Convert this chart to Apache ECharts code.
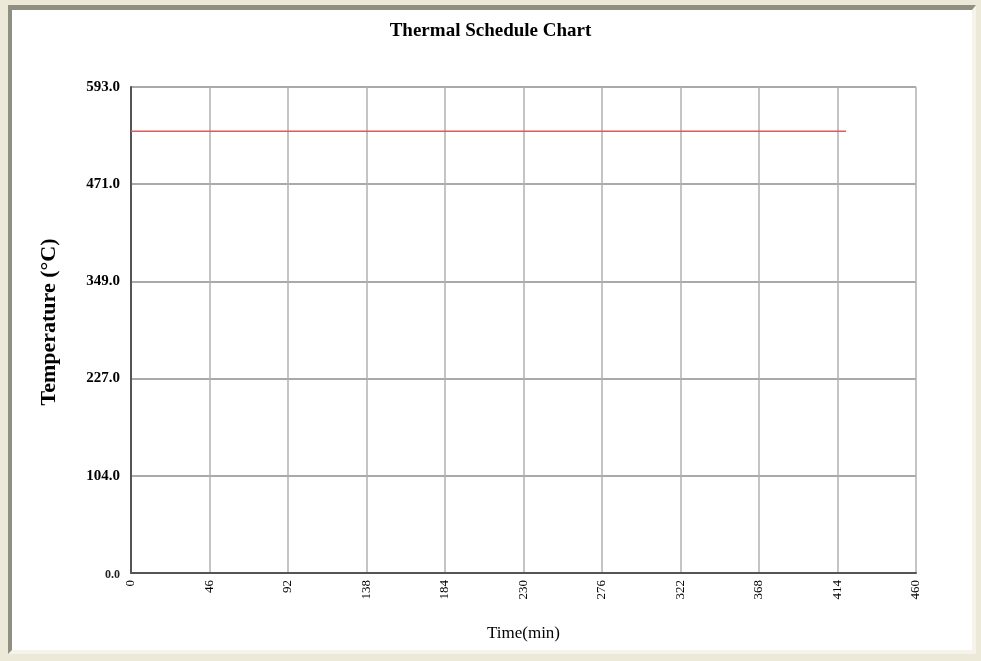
<!DOCTYPE html>
<html>
<head>
<meta charset="utf-8">
<script src="https://cdn.jsdelivr.net/npm/echarts@6/dist/echarts.min.js"></script>
<style>
  html, body { margin: 0; padding: 0; background: #ECE9D8; }
  #frame {
    position: absolute; left: 8px; top: 5px; width: 968px; height: 649px;
    background: #ffffff;
    border-top: 5px solid #8f8f82; border-left: 4px solid #8f8f82;
    border-right: 4px solid #f5f3ea; border-bottom: 4px solid #f5f3ea;
    box-sizing: border-box;
  }
  #chart { position: absolute; left: 0; top: 0; width: 981px; height: 661px; }
</style>
</head>
<body>
<div id="frame"></div>
<div id="chart"></div>
<script>
// Time axis (minutes) and temperature axis labels
const timeTicks = [0, 46, 92, 138, 184, 230, 276, 322, 368, 414, 460];
const tempTickLabels = ['0.0', '104.0', '227.0', '349.0', '471.0', '593.0'];
const tempMax = 593;

// Schedule: hold temperature over time
const scheduleTime = [0, 419];
const scheduleTemp = [539, 539];

const chart = echarts.init(document.getElementById('chart'), null, { renderer: 'canvas' });
const serif = '"Liberation Serif", "Times New Roman", serif';
const yStep = tempMax / (tempTickLabels.length - 1);

chart.setOption({
  backgroundColor: 'transparent',
  animation: false,
  title: {
    text: 'Thermal Schedule Chart',
    left: 'center', top: 17,
    textStyle: { fontFamily: serif, fontSize: 19, fontWeight: 'bold', color: '#000' }
  },
  grid: { left: 131, right: 65, top: 87, bottom: 88 },
  xAxis: {
    type: 'value',
    min: 0, max: timeTicks[timeTicks.length - 1], interval: timeTicks[1] - timeTicks[0],
    name: 'Time(min)', nameLocation: 'middle', nameGap: 52,
    nameTextStyle: { fontFamily: serif, fontSize: 17, color: '#000' },
    axisLine: { lineStyle: { color: '#555', width: 2 } },
    axisTick: { show: false },
    axisLabel: { rotate: 90, margin: 7, fontFamily: serif, fontSize: 13, color: '#000' },
    splitLine: { show: true, lineStyle: { color: '#b0b0b0', width: 1.5 } }
  },
  yAxis: {
    type: 'value',
    min: 0, max: tempMax, interval: yStep,
    name: 'Temperature (°C)', nameLocation: 'middle', nameGap: 71,
    nameTextStyle: { fontFamily: serif, fontSize: 22, fontWeight: 'bold', color: '#000', padding: [0, 0, 0, 16] },
    axisLine: { show: true, lineStyle: { color: '#555', width: 2 } },
    axisTick: { show: false },
    axisLabel: {
      margin: 11,
      formatter: function (v) {
        const i = Math.round(v / yStep);
        return i === 0 ? '{z|' + tempTickLabels[0] + '}' : tempTickLabels[i];
      },
      fontFamily: serif, fontSize: 15, fontWeight: 'bold', color: '#000',
      rich: { z: { fontFamily: serif, fontSize: 12, color: '#222', padding: [4, 0, 0, 0] } }
    },
    splitLine: { show: true, lineStyle: { color: '#8c8c8c', width: 1.5 } }
  },
  series: [{
    type: 'line',
    data: scheduleTime.map((t, i) => [t, scheduleTemp[i]]),
    symbol: 'none',
    lineStyle: { color: '#ff4d4d', width: 1.5 }
  }]
});
</script>
</body>
</html>
